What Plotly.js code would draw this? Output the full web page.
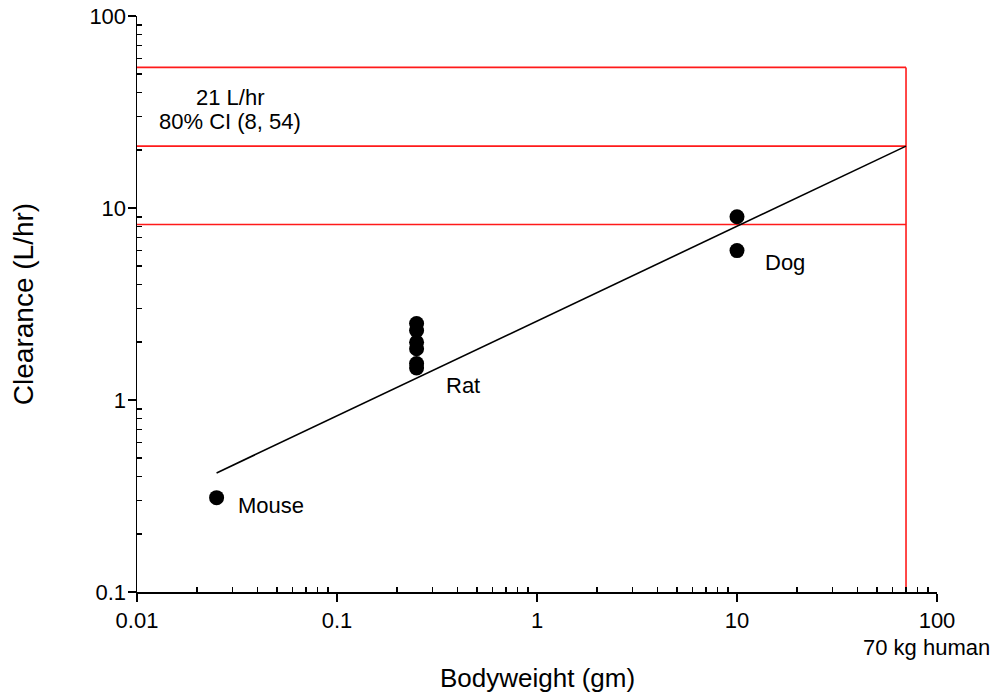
<!DOCTYPE html>
<html>
<head>
<meta charset="utf-8">
<script src="https://cdn.plot.ly/plotly-3.0.1.min.js"></script>
<style>html,body{margin:0;padding:0;background:#fff;}#chart{width:994px;height:692px;}</style>
</head>
<body>
<div id="chart"></div>
<script>
// Data
const mouseWeight = [0.025];
const mouseClearance = [0.31];
const ratWeight = [0.25, 0.25, 0.25, 0.25, 0.25, 0.25];
const ratClearance = [2.5, 2.3, 2.0, 1.85, 1.55, 1.47];
const dogWeight = [10, 10];
const dogClearance = [9.0, 6.0];
const fitWeight = [0.025, 70];
const fitClearance = [0.417, 21];
const humanWeight = 70;
const ciValues = [8.2, 21, 54];   // lower, predicted, upper
const xTickVals = [0.01, 0.1, 1, 10, 100];
const xTickText = ['0.01', '0.1', '1', '10', '100'];
const yTickVals = [0.1, 1, 10, 100];
const yTickText = ['0.1', '1', '10', '100'];
const xMin = 0.01, xMax = 100, yMin = 0.1, yMax = 100;

function minorVals(lo, hi) {
  const v = [];
  for (let d = lo; d < hi; d *= 10) for (let k = 2; k <= 9; k++) v.push(+(d * k).toPrecision(6));
  return v;
}

const FONT = 'Liberation Sans, Arial, sans-serif';
const RED = 'rgb(255,26,26)';

// red reference lines
const redX = [], redY = [];
ciValues.forEach(v => { redX.push(xMin, humanWeight, null); redY.push(v, v, null); });
redX.push(humanWeight, humanWeight); redY.push(yMin, ciValues[2]);

const marker = {color: '#000', size: 15, line: {width: 0}};
const traces = [
  {x: redX, y: redY, mode: 'lines', line: {color: RED, width: 1.6}, hoverinfo: 'skip', cliponaxis: false},
  {x: fitWeight, y: fitClearance, mode: 'lines', line: {color: '#000', width: 1.6}},
  {x: mouseWeight, y: mouseClearance, mode: 'markers', marker: marker},
  {x: ratWeight, y: ratClearance, mode: 'markers', marker: marker},
  {x: dogWeight, y: dogClearance, mode: 'markers', marker: marker}
];

const txt = {family: FONT, size: 22, color: '#000'};
const ann = (text, x, y, xanchor, extra) => Object.assign({text, x, y, xref: 'x', yref: 'y', xanchor, yanchor: 'middle', showarrow: false, font: txt}, extra || {});

const layout = {
  width: 994, height: 692,
  margin: {l: 137, r: 57, t: 16, b: 100},
  paper_bgcolor: '#fff', plot_bgcolor: '#fff',
  showlegend: false,
  font: {family: FONT, size: 22, color: '#000'},
  xaxis: {
    type: 'log', range: [Math.log10(xMin), Math.log10(xMax)],
    tickmode: 'array', tickvals: xTickVals, ticktext: xTickText,
    ticks: 'outside', ticklen: 8, tickwidth: 1.5, tickcolor: '#000',
    showline: true, linecolor: '#000', linewidth: 1.5, showgrid: false, zeroline: false,
    tickfont: {family: FONT, size: 22, color: '#000'},
    automargin: false,
    minor: {tickmode: 'array', tickvals: minorVals(xMin, xMax), ticks: 'inside', ticklen: 5, tickwidth: 1.5, tickcolor: '#000', showgrid: false}
  },
  yaxis: {
    type: 'log', range: [Math.log10(yMin), Math.log10(yMax)],
    tickmode: 'array', tickvals: yTickVals, ticktext: yTickText,
    ticks: 'outside', ticklen: 8, tickwidth: 1.5, tickcolor: '#000',
    showline: true, linecolor: '#000', linewidth: 1.5, showgrid: false, zeroline: false,
    tickfont: {family: FONT, size: 22, color: '#000'},
    ticklabelstandoff: -3,
    automargin: 'left',
    minor: {tickmode: 'array', tickvals: minorVals(yMin, yMax), ticks: 'inside', ticklen: 5, tickwidth: 1.5, tickcolor: '#000', showgrid: false},
    title: {text: 'Clearance (L/hr)', font: {family: FONT, size: 28, color: '#000'}, standoff: 47}
  },
  annotations: [
    ann('21 L/hr', -1.535, 1.573, 'center'),
    ann('80% CI (8, 54)', -1.535, 1.448, 'center'),
    ann('Mouse', -1.505, -0.547, 'left'),
    ann('Rat', -0.465, 0.078, 'left'),
    ann('Dog', 1.13, 0.714, 'left'),
    {text: '70 kg human', x: 1.948, y: -0.097, xref: 'x', yref: 'paper', xanchor: 'center', yanchor: 'middle', showarrow: false, font: txt},
    {text: 'Bodyweight (gm)', x: 0.5, y: -0.149, xref: 'paper', yref: 'paper', xanchor: 'center', yanchor: 'middle', showarrow: false, font: {family: FONT, size: 26, color: '#000'}}
  ]
};

Plotly.newPlot('chart', traces, layout, {displayModeBar: false, staticPlot: true});
</script>
</body>
</html>
